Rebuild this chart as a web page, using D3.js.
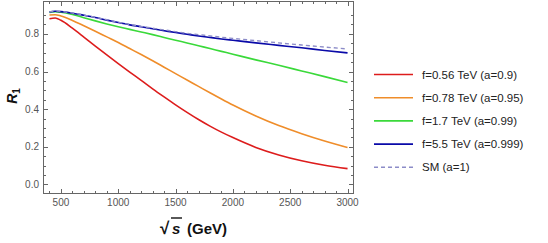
<!DOCTYPE html>
<html><head><meta charset="utf-8">
<script src="https://cdn.jsdelivr.net/npm/d3@7"></script>
<style>body{margin:0;background:#fff}svg{display:block}</style>
</head><body>
<svg id="c" width="548" height="243"></svg>
<script>
const energies = [400,450,500,600,700,800,900,1000,1100,1200,1300,1400,1500,1600,1700,1800,1900,2000,2200,2400,2600,2800,3000];
const red    = [0.880,0.884,0.872,0.830,0.783,0.735,0.688,0.642,0.597,0.553,0.508,0.465,0.423,0.383,0.345,0.310,0.278,0.249,0.197,0.157,0.126,0.102,0.084];
const orange = [0.900,0.902,0.895,0.871,0.843,0.814,0.784,0.754,0.722,0.690,0.657,0.623,0.589,0.555,0.521,0.487,0.454,0.422,0.364,0.313,0.270,0.231,0.196];
const green  = [0.914,0.918,0.915,0.903,0.886,0.869,0.853,0.838,0.824,0.810,0.796,0.781,0.766,0.752,0.737,0.722,0.707,0.692,0.662,0.633,0.603,0.573,0.542];
const blue   = [0.916,0.920,0.918,0.910,0.899,0.887,0.873,0.860,0.848,0.838,0.827,0.817,0.807,0.798,0.789,0.781,0.773,0.766,0.752,0.739,0.726,0.712,0.699];
const sm     = [0.917,0.921,0.919,0.911,0.900,0.888,0.875,0.862,0.850,0.840,0.830,0.821,0.812,0.803,0.796,0.789,0.782,0.776,0.764,0.752,0.741,0.730,0.720];
const seriesNames = ["f=0.56 TeV (a=0.9)","f=0.78 TeV (a=0.95)","f=1.7 TeV (a=0.99)","f=5.5 TeV (a=0.999)","SM (a=1)"];
const seriesColors = ["#dd1c1c","#ef8d2a","#3ad93a","#0a0aa8","#8c8cc8"];
const xTicks = [500,1000,1500,2000,2500,3000];
const yTicks = [0.0,0.2,0.4,0.6,0.8];

const svg = d3.select("#c");
const L=43.5, R=353.5, T=1.5, B=193.5;
const x = d3.scaleLinear().domain([348,3052]).range([L,R]);
const y = d3.scaleLinear().domain([-0.048,0.972]).range([B,T]);

const frame = "#666";
svg.append("rect").attr("x",L).attr("y",T).attr("width",R-L).attr("height",B-T)
  .attr("fill","none").attr("stroke",frame).attr("stroke-width",1);

// ticks
const xMinor = d3.range(400,3001,100);
const yMinor = d3.range(0,19).map(i=>i*0.05);
const tg = svg.append("g").attr("stroke",frame).attr("stroke-width",1);
xMinor.forEach(v=>{
  const major = v%500===0, len = major?4.5:2.5, px=Math.round(x(v))+0.5;
  tg.append("line").attr("x1",px).attr("x2",px).attr("y1",B).attr("y2",B-len);
  tg.append("line").attr("x1",px).attr("x2",px).attr("y1",T).attr("y2",T+len);
});
yMinor.forEach((v,i)=>{
  const major = i%4===0;
  const len = major?4.5:2.5, py=Math.round(y(v))+0.5;
  tg.append("line").attr("x1",L).attr("x2",L+len).attr("y1",py).attr("y2",py);
  tg.append("line").attr("x1",R).attr("x2",R-len).attr("y1",py).attr("y2",py);
});

const lab = svg.append("g").attr("font-family","Liberation Sans, Arial, sans-serif").attr("font-size",10).attr("fill","#555");
xTicks.forEach(v=>lab.append("text").attr("x",x(v)).attr("y",206).attr("text-anchor","middle").text(v));
yTicks.forEach(v=>lab.append("text").attr("x",39).attr("y",y(v)+3.5).attr("text-anchor","end").text(v.toFixed(1)));

// curves
const line = d3.line().x((d,i)=>x(energies[i])).y(d=>y(d)).curve(d3.curveMonotoneX);
[red, orange, green, blue].forEach((s,i)=>{
  svg.append("path").attr("d",line(s)).attr("fill","none")
    .attr("stroke",seriesColors[i]).attr("stroke-width",1.6);
});
svg.append("path").attr("d",line(sm)).attr("fill","none").attr("stroke",seriesColors[4])
  .attr("stroke-width",1.4).attr("stroke-dasharray","4,3");

// legend
const lg = svg.append("g").attr("font-family","Liberation Sans, Arial, sans-serif").attr("font-size",11.5).attr("fill","#222");
seriesNames.forEach((n,i)=>{
  const yy = 74.5 + i*23.2;
  const l = lg.append("line").attr("x1",374).attr("x2",413).attr("y1",yy).attr("y2",yy)
    .attr("stroke",seriesColors[i]).attr("stroke-width",1.6);
  if(i===4) l.attr("stroke-dasharray","4,3");
  lg.append("text").attr("x",422).attr("y",yy+4).text(n);
});

// y label R1
const yl = svg.append("text").attr("transform","translate(17,96) rotate(-90)")
  .attr("text-anchor","middle").attr("font-family","Liberation Sans, Arial, sans-serif")
  .attr("font-weight","bold").attr("font-size",14).attr("fill","#111");
yl.append("tspan").attr("font-style","italic").text("R");
yl.append("tspan").attr("font-size",10).attr("dy",3).text("1");

// x label sqrt(s) (GeV)
const xl = svg.append("g").attr("font-family","Liberation Sans, Arial, sans-serif").attr("fill","#111");
xl.append("text").attr("x",160).attr("y",234).attr("font-size",17).attr("font-weight","bold").text("√");
xl.append("text").attr("x",172).attr("y",234).attr("font-size",15).attr("font-weight","bold").attr("font-style","italic").text("s");
xl.append("line").attr("x1",171).attr("x2",182).attr("y1",218).attr("y2",218).attr("stroke","#111").attr("stroke-width",1.4);
xl.append("text").attr("x",187).attr("y",234).attr("font-size",15).attr("font-weight","bold").text("(GeV)");
</script>
</body></html>
